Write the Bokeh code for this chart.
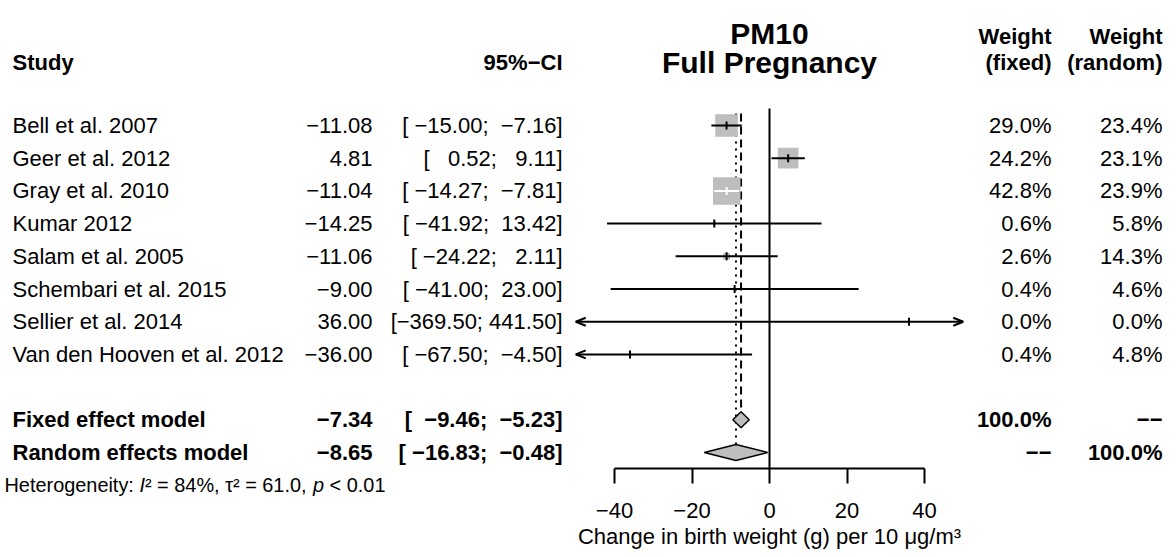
from bokeh.plotting import figure
from bokeh.models import Range1d, LinearAxis, FixedTicker, ColumnDataSource
from bokeh.core.properties import value
from bokeh.embed import file_html
from bokeh.resources import INLINE

# ---------------- data ----------------
studies = ["Bell et al. 2007", "Geer et al. 2012", "Gray et al. 2010", "Kumar 2012",
           "Salam et al. 2005", "Schembari et al. 2015", "Sellier et al. 2014",
           "Van den Hooven et al. 2012"]
effects = [-11.08, 4.81, -11.04, -14.25, -11.06, -9.00, 36.00, -36.00]
ci_lower = [-15.00, 0.52, -14.27, -41.92, -24.22, -41.00, -369.50, -67.50]
ci_upper = [-7.16, 9.11, -7.81, 13.42, 2.11, 23.00, 441.50, -4.50]
weight_fixed = [29.0, 24.2, 42.8, 0.6, 2.6, 0.4, 0.0, 0.4]
weight_random = [23.4, 23.1, 23.9, 5.8, 14.3, 4.6, 0.0, 4.8]

model_names = ["Fixed effect model", "Random effects model"]
model_effects = [-7.34, -8.65]
model_lower = [-9.46, -16.83]
model_upper = [-5.23, -0.48]
model_weight_fixed = [100.0, None]
model_weight_random = [None, 100.0]

axis_ticks = [-40, -20, 0, 20, 40]
x_limits = [-50, 50]
het_i2 = 84
het_tau2 = 61.0
het_p = "< 0.01"

title_lines = ["PM10", "Full Pregnancy"]
axis_title = "Change in birth weight (g) per 10 \u03bcg/m\u00b3"

# ---------------- layout (styling) ----------------
FONT = "Liberation Sans"
GRAY = "#BEBEBE"
W, H = 1170, 552
ZERO_PX = 769              # screen x of effect 0
PX_PER_UNIT = 3.875
AXIS_Y = 467.7             # screen y of axis line
ROW0, ROW_H = 125, 32.7
MINUS = "\u2212"
NBSP = "\u00a0"


def row_y(i):
    return ROW0 + ROW_H * i


def fmt(v):
    return f"{v:.2f}".replace("-", MINUS)


def fmt_ci(lo, up):
    s = "[" + f"{lo:.2f}".rjust(7) + "; " + f"{up:.2f}".rjust(6) + "]"
    return s.replace("-", MINUS).replace(" ", NBSP)


def fmt_w(w):
    return MINUS + MINUS if w is None else f"{w:.1f}%"


p = figure(width=W, height=H, output_backend="svg", toolbar_location=None,
           x_range=Range1d(0, W), y_range=Range1d(H, 0),
           x_axis_location=None, y_axis_location=None,
           min_border=0, outline_line_color=None, background_fill_color="white")
p.grid.visible = False
p.extra_x_ranges = {"eff": Range1d(-ZERO_PX / PX_PER_UNIT, (W - ZERO_PX) / PX_PER_UNIT)}


def add_text(xs, ys, texts, align, size="22px", style="normal", rng="default", color="black"):
    src = ColumnDataSource(dict(x=xs, y=ys, text=texts))
    p.text(x="x", y="y", text="text", source=src, text_font=value(FONT),
           text_font_size=value(size), text_font_style=style, text_align=align,
           text_baseline="middle", text_color=color, x_range_name=rng)


n = len(studies)
ys = [row_y(i) for i in range(n)]
mys = [row_y(n + 1 + j) for j in range(len(model_names))]

# ---------- reference lines ----------
p.segment(x0=[0], y0=[108], x1=[0], y1=[AXIS_Y], line_color="black", line_width=2,
          x_range_name="eff")
p.segment(x0=[model_effects[0]], y0=[113], x1=[model_effects[0]], y1=[mys[0] - 8],
          line_color="black", line_width=2, line_dash="8 5", x_range_name="eff")
p.segment(x0=[model_effects[1]], y0=[113], x1=[model_effects[1]], y1=[mys[1] - 8],
          line_color="black", line_width=2, line_dash="2 5", x_range_name="eff")

# ---------- study boxes ----------
sizes = [4.2 * (w ** 0.5) for w in weight_fixed]
p.rect(x=effects, y=ys, width=sizes, height=sizes, width_units="screen", height_units="screen",
       fill_color=GRAY, line_color=None, x_range_name="eff")

# ---------- CI lines ----------
x0s, x1s, cols = [], [], []
ah_x0, ah_y0, ah_x1, ah_y1 = [], [], [], []
arrow_len = 10 / PX_PER_UNIT
for i in range(n):
    lo = max(ci_lower[i], x_limits[0])
    up = min(ci_upper[i], x_limits[1])
    half_box = sizes[i] / 2 / PX_PER_UNIT
    inside = (effects[i] - ci_lower[i] < half_box) and (ci_upper[i] - effects[i] < half_box)
    cols.append("white" if inside else "black")
    x0s.append(lo); x1s.append(up)
    if ci_lower[i] < x_limits[0]:
        for d in (-4, 4):
            ah_x0.append(x_limits[0]); ah_y0.append(ys[i])
            ah_x1.append(x_limits[0] + arrow_len); ah_y1.append(ys[i] + d)
    if ci_upper[i] > x_limits[1]:
        for d in (-4, 4):
            ah_x0.append(x_limits[1]); ah_y0.append(ys[i])
            ah_x1.append(x_limits[1] - arrow_len); ah_y1.append(ys[i] + d)

p.segment(x0=x0s, y0=ys, x1=x1s, y1=ys, line_color=cols, line_width=2, x_range_name="eff")
p.segment(x0=effects, y0=[y - 4 for y in ys], x1=effects, y1=[y + 4 for y in ys],
          line_color=cols, line_width=2, x_range_name="eff")
p.segment(x0=ah_x0, y0=ah_y0, x1=ah_x1, y1=ah_y1, line_color="black", line_width=2,
          x_range_name="eff")

# ---------- diamonds ----------
dxs = [[model_lower[j], model_effects[j], model_upper[j], model_effects[j]] for j in range(2)]
dys = [[mys[j], mys[j] - 8, mys[j], mys[j] + 8] for j in range(2)]
p.patches(xs=dxs, ys=dys, fill_color=GRAY, line_color="black", line_width=1.5,
          x_range_name="eff")

# ---------- axis (fixed at the bottom of the forest) ----------
xaxis = LinearAxis(x_range_name="eff", ticker=FixedTicker(ticks=axis_ticks),
                   bounds=(axis_ticks[0], axis_ticks[-1]), axis_label=axis_title,
                   fixed_location=AXIS_Y)
xaxis.major_label_overrides = {t: str(t).replace("-", MINUS) for t in axis_ticks}
xaxis.axis_line_width = 2
xaxis.axis_line_color = "black"
xaxis.major_tick_line_width = 2
xaxis.major_tick_line_color = "black"
xaxis.major_tick_in = 0
xaxis.major_tick_out = 15
xaxis.minor_tick_line_color = None
xaxis.major_label_text_font = FONT
xaxis.major_label_text_font_size = "22px"
xaxis.major_label_text_color = "black"
xaxis.major_label_standoff = 20
xaxis.axis_label_text_font = FONT
xaxis.axis_label_text_font_size = "22px"
xaxis.axis_label_text_font_style = "normal"
xaxis.axis_label_text_color = "black"
xaxis.axis_label_standoff = 2
p.add_layout(xaxis, "below")

# ---------- headers ----------
add_text([12], [62], ["Study"], "left", style="bold")
add_text([562], [62], ["95%" + MINUS + "CI"], "right", style="bold")
add_text([1051, 1051], [36, 62], ["Weight", "(fixed)"], "right", style="bold")
add_text([1162, 1162], [36, 62], ["Weight", "(random)"], "right", style="bold")
add_text([0, 0], [33, 62], title_lines, "center", size="30px", style="bold", rng="eff")

# ---------- study rows ----------
add_text([12] * n, ys, studies, "left")
add_text([372] * n, ys, [fmt(v) for v in effects], "right")
add_text([562] * n, ys, [fmt_ci(a, b) for a, b in zip(ci_lower, ci_upper)], "right")
add_text([1051] * n, ys, [fmt_w(w) for w in weight_fixed], "right")
add_text([1162] * n, ys, [fmt_w(w) for w in weight_random], "right")

# ---------- model rows ----------
m = len(model_names)
add_text([12] * m, mys, model_names, "left", style="bold")
add_text([372] * m, mys, [fmt(v) for v in model_effects], "right", style="bold")
add_text([562] * m, mys, [fmt_ci(a, b) for a, b in zip(model_lower, model_upper)], "right", style="bold")
add_text([1051] * m, mys, [fmt_w(w) for w in model_weight_fixed], "right", style="bold")
add_text([1162] * m, mys, [fmt_w(w) for w in model_weight_random], "right", style="bold")

# ---------- heterogeneity ----------
AW = {' ': .278, 'H': .722, 'e': .556, 't': .278, 'r': .333, 'o': .556, 'g': .556, 'n': .556,
      'i': .222, 'y': .5, ':': .278, 'I': .278, '\u00b2': .333, '=': .584, '%': .889, ',': .278,
      '\u03c4': .44, '.': .278, 'p': .556, '<': .584}


def tw(s, size):
    return sum(AW.get(ch, .556) for ch in s) * size


het_size = 19.9
pieces = [("Heterogeneity: ", "normal"), ("I", "italic"),
          (f"\u00b2 = {het_i2}%, \u03c4\u00b2 = {het_tau2:.1f}, ", "normal"),
          ("p", "italic"), (f" {het_p}", "normal")]
hx = 4
hy = row_y(n + 3)
for txt, st in pieces:
    add_text([hx], [hy], [txt.replace(" ", NBSP)], "left", size=f"{het_size}px", style=st)
    hx += tw(txt, het_size)

open("out.html", "w").write(file_html(p, INLINE))
